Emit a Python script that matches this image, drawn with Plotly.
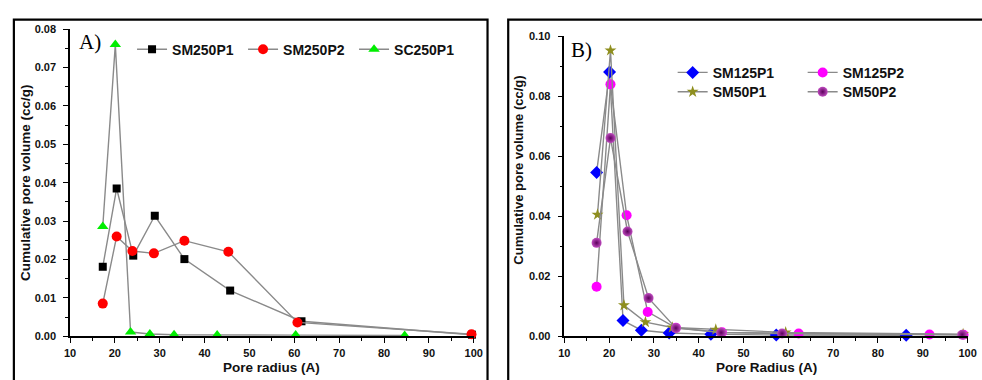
import plotly.graph_objects as go

W, H = 982, 380

# ---------------- Panel A data ----------------
a_sm250p1_x = [17.3, 20.4, 24.1, 28.9, 35.5, 45.7, 61.6, 99.6]
a_sm250p1_y = [0.0181, 0.0385, 0.0210, 0.0314, 0.0201, 0.0119, 0.0039, 0.0004]
a_sm250p2_x = [17.3, 20.4, 23.9, 28.7, 35.5, 45.3, 60.7, 99.5]
a_sm250p2_y = [0.0085, 0.0260, 0.0222, 0.0216, 0.0249, 0.0220, 0.0036, 0.0005]
a_sc250p1_x = [17.3, 20.1, 23.5, 27.8, 33.2, 42.8, 60.3, 84.6]
a_sc250p1_y = [0.0286, 0.0760, 0.0011, 0.0006, 0.0004, 0.0003, 0.0003, 0.0002]

# ---------------- Panel B data ----------------
b_sm125p1_x = [17.2, 20.1, 23.1, 27.2, 33.4, 42.7, 57.3, 86.3]
b_sm125p1_y = [0.0545, 0.0880, 0.0052, 0.0020, 0.0011, 0.0007, 0.0004, 0.0003]
b_sm125p2_x = [17.2, 20.3, 23.9, 28.6, 34.9, 45.2, 62.3, 91.5, 99.1]
b_sm125p2_y = [0.0165, 0.0839, 0.0403, 0.0081, 0.0028, 0.0013, 0.0009, 0.0006, 0.0005]
b_sm50p1_x = [17.4, 20.3, 23.3, 28.1, 34.1, 43.8, 59.4, 99.0]
b_sm50p1_y = [0.0405, 0.0952, 0.0103, 0.0047, 0.0029, 0.0022, 0.0013, 0.0007]
b_sm50p2_x = [17.2, 20.3, 24.1, 28.8, 34.9, 45.0, 58.6, 98.8]
b_sm50p2_y = [0.0311, 0.0660, 0.0349, 0.0127, 0.0027, 0.0012, 0.0009, 0.0005]

x_ticks = [10, 20, 30, 40, 50, 60, 70, 80, 90, 100]


def px(x):
    return x / W


def py(y):
    return 1 - y / H


FONT = "Arial, Liberation Sans, sans-serif"
LINE = dict(color="#8a8a8a", width=1.4)

fig = go.Figure()


def add(x, y, name, xa, ya, legend, symbol, color, size, extra=None):
    marker = dict(symbol=symbol, color=color, size=size, line=dict(width=0))
    if extra:
        marker.update(extra)
    fig.add_trace(go.Scatter(
        x=x, y=y, name=name, mode="lines+markers", xaxis=xa, yaxis=ya,
        legend=legend, line=LINE, marker=marker, cliponaxis=False))


add(a_sm250p1_x, a_sm250p1_y, "SM250P1", "x", "y", "legend", "square", "#000000", 8)
add(a_sm250p2_x, a_sm250p2_y, "SM250P2", "x", "y", "legend", "circle", "#ff0000", 10)
add(a_sc250p1_x, a_sc250p1_y, "SC250P1", "x", "y", "legend", "triangle-up", "#00ee00", 10)

add(b_sm125p1_x, b_sm125p1_y, "SM125P1", "x2", "y2", "legend2", "diamond", "#0000ff", 10)
add(b_sm125p2_x, b_sm125p2_y, "SM125P2", "x2", "y2", "legend2", "circle", "#ff00ff", 10)
add(b_sm50p1_x, b_sm50p1_y, "SM50P1", "x2", "y2", "legend3", "star", "#8f8f1f", 9)
add(b_sm50p2_x, b_sm50p2_y, "SM50P2", "x2", "y2", "legend3", "circle", "#c04cc0", 10,
    dict(gradient=dict(type="radial", color="#5c005c")))

TICKFONT = dict(family=FONT, size=11, color="#111", weight="bold")
axis_common = dict(
    showline=True, linecolor="black", linewidth=1.5, ticks="outside",
    ticklen=5, tickwidth=1.3, tickcolor="black", showgrid=False,
    zeroline=False, tickfont=TICKFONT, fixedrange=True,
)
xminor = dict(ticks="outside", ticklen=3, dtick=5, tickcolor="black", tickwidth=1.1)

fig.update_layout(
    width=W, height=H, autosize=False,
    margin=dict(l=0, r=0, t=0, b=0),
    paper_bgcolor="white", plot_bgcolor="white",
    showlegend=True,
    xaxis=dict(domain=[px(65), px(475)], range=[10, 100], tickvals=x_ticks,
               anchor="y", minor=xminor, ticklabelstandoff=1, **axis_common),
    yaxis=dict(domain=[py(341), py(24)], range=[0, 0.08], dtick=0.01,
               tickformat=".2f", anchor="x", ticklabelstandoff=5,
               minor=dict(ticks="outside", ticklen=3, dtick=0.005,
                          tickcolor="black", tickwidth=1.1),
               **axis_common),
    xaxis2=dict(domain=[px(567), px(976.5)], range=[10, 100], tickvals=x_ticks,
                anchor="y2", minor=xminor, ticklabelstandoff=1, **axis_common),
    yaxis2=dict(domain=[py(341), py(31)], range=[0, 0.10], dtick=0.02,
                tickformat=".2f", anchor="x2", ticklabelstandoff=5,
                minor=dict(ticks="outside", ticklen=3, dtick=0.01,
                           tickcolor="black", tickwidth=1.1),
                **axis_common),
    legend=dict(orientation="h", x=px(128), y=py(45), xanchor="left",
                yanchor="middle", bgcolor="rgba(0,0,0,0)", borderwidth=0,
                entrywidth=66, entrywidthmode="pixels",
                font=dict(family=FONT, size=14, color="#111", weight="bold")),
    legend2=dict(orientation="h", x=px(677), y=py(69), xanchor="left",
                 yanchor="middle", bgcolor="rgba(0,0,0,0)", borderwidth=0,
                 entrywidth=85, entrywidthmode="pixels",
                 font=dict(family=FONT, size=14, color="#111", weight="bold")),
    legend3=dict(orientation="h", x=px(677), y=py(89), xanchor="left",
                 yanchor="middle", bgcolor="rgba(0,0,0,0)", borderwidth=0,
                 entrywidth=85, entrywidthmode="pixels",
                 font=dict(family=FONT, size=14, color="#111", weight="bold")),
)

# panel frames
fig.add_shape(type="rect", xref="paper", yref="paper", x0=px(8), x1=px(489),
              y0=-0.2, y1=py(14), line=dict(color="black", width=2.2))
fig.add_shape(type="rect", xref="paper", yref="paper", x0=px(510), x1=1.2,
              y0=-0.2, y1=py(14), line=dict(color="black", width=2.2))

TITLEFONT = dict(family=FONT, size=13.5, color="#111", weight="bold")
ann = [
    dict(text="A)", x=px(72), y=py(37), xanchor="left", yanchor="middle",
         font=dict(family="Times New Roman, Liberation Serif, serif", size=21, color="black")),
    dict(text="B)", x=px(572), y=py(45), xanchor="left", yanchor="middle",
         font=dict(family="Times New Roman, Liberation Serif, serif", size=21, color="black")),
    dict(text="Pore radius (A)", x=px(270), y=py(373), xanchor="center", yanchor="middle",
         font=TITLEFONT),
    dict(text="Pore Radius (A)", x=px(772), y=py(373), xanchor="center", yanchor="middle",
         font=TITLEFONT),
    dict(text="Cumulative pore volume (cc/g)", x=px(20), y=py(182), textangle=-90,
         xanchor="center", yanchor="middle", font=TITLEFONT),
    dict(text="Cumulative pore volume (cc/g)", x=px(521), y=py(170), textangle=-90,
         xanchor="center", yanchor="middle",
         font=dict(family=FONT, size=13, color="#111", weight="bold")),
]
for a in ann:
    a.update(xref="paper", yref="paper", showarrow=False)
    fig.add_annotation(**a)

fig.write_html("out.html")
